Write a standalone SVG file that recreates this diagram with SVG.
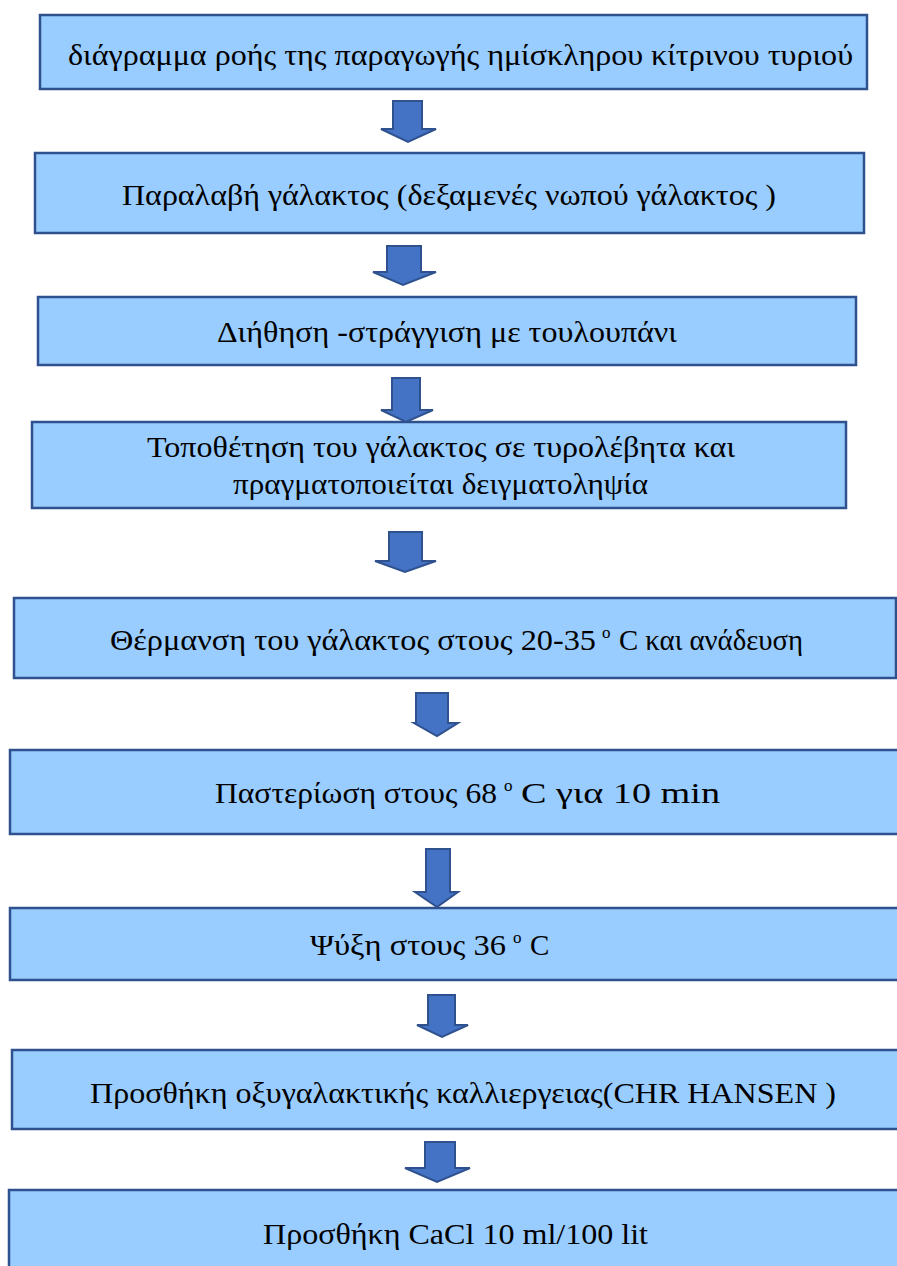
<svg xmlns="http://www.w3.org/2000/svg" width="897" height="1266" viewBox="0 0 897 1266">
  <style>
    .box { fill: #99CCFF; stroke: #2F528F; stroke-width: 2.5; }
    .lbl { font-family: "Liberation Serif", "DejaVu Serif", "Times New Roman", serif; font-size: 29px; fill: #000; }
    .sup { font-size: 17px; }
    .arrow { fill: #4472C4; stroke: #2F528F; stroke-width: 2; stroke-linejoin: miter; }
  </style>
  <rect width="897" height="1266" fill="#ffffff"/>

  <g id="n1">
    <rect class="box" x="40" y="15" width="827" height="74"/>
    <text class="lbl" x="68" y="65" textLength="785" lengthAdjust="spacingAndGlyphs">διάγραμμα ροής της παραγωγής ημίσκληρου κίτρινου τυριού</text>
  </g>
  <g id="n2">
    <rect class="box" x="35" y="153" width="829" height="80"/>
    <text class="lbl" x="122" y="205" textLength="654" lengthAdjust="spacingAndGlyphs">Παραλαβή γάλακτος (δεξαμενές νωπού γάλακτος )</text>
  </g>
  <g id="n3">
    <rect class="box" x="38" y="297" width="818" height="68"/>
    <text class="lbl" x="217" y="342" textLength="460" lengthAdjust="spacingAndGlyphs">Διήθηση -στράγγιση με τουλουπάνι</text>
  </g>
  <g id="n4">
    <rect class="box" x="32" y="422" width="814" height="86"/>
    <text class="lbl" x="147" y="457" textLength="588" lengthAdjust="spacingAndGlyphs">Τοποθέτηση του γάλακτος σε τυρολέβητα και</text>
    <text class="lbl" x="233" y="494" textLength="415" lengthAdjust="spacingAndGlyphs">πραγματοποιείται δειγματοληψία</text>
  </g>
  <g id="n5">
    <rect class="box" x="14" y="598" width="882" height="80"/>
    <text class="lbl" y="650"><tspan x="110" textLength="486" lengthAdjust="spacingAndGlyphs">Θέρμανση του γάλακτος στους 20-35</tspan><tspan class="sup" x="602" y="638">ο</tspan><tspan x="619" y="650" textLength="184" lengthAdjust="spacingAndGlyphs">C και ανάδευση</tspan></text>
  </g>
  <g id="n6">
    <rect class="box" x="10" y="750" width="890" height="84"/>
    <text class="lbl" y="803"><tspan x="215" textLength="282" lengthAdjust="spacingAndGlyphs">Παστερίωση στους 68</tspan><tspan class="sup" x="504" y="791">ο</tspan><tspan x="521" y="803" textLength="199" lengthAdjust="spacingAndGlyphs">C για 10 min</tspan></text>
  </g>
  <g id="n7">
    <rect class="box" x="10" y="908" width="890" height="72"/>
    <text class="lbl" y="955"><tspan x="310" textLength="196" lengthAdjust="spacingAndGlyphs">Ψύξη στους 36</tspan><tspan class="sup" x="513" y="943">ο</tspan><tspan x="530" y="955">C</tspan></text>
  </g>
  <g id="n8">
    <rect class="box" x="12" y="1050" width="890" height="79"/>
    <text class="lbl" x="90" y="1103" textLength="746" lengthAdjust="spacingAndGlyphs">Προσθήκη οξυγαλακτικής καλλιεργειας(CHR HANSEN )</text>
  </g>
  <g id="n9">
    <rect class="box" x="9" y="1190" width="893" height="90"/>
    <text class="lbl" x="263" y="1244" textLength="385" lengthAdjust="spacingAndGlyphs">Προσθήκη CaCl 10 ml/100 lit</text>
  </g>

  <g id="connectors">
    <polygon class="arrow" points="393,101 422,101 422,129 436,129 408,142 381,129 393,129"/>
    <polygon class="arrow" points="387,246 421,246 421,272 436,272 403,285 373,272 387,272"/>
    <polygon class="arrow" points="392,378 420,378 420,410 433,410 406,422 381,410 392,410"/>
    <polygon class="arrow" points="389,532 422,532 422,561 436,561 405,572 375,561 389,561"/>
    <polygon class="arrow" points="416,693 448,693 448,723 458,723 437,736 414,723 416,723"/>
    <polygon class="arrow" points="426,849 450,849 450,892 458,892 437,907 415,892 426,892"/>
    <polygon class="arrow" points="428,995 455,995 455,1025 468,1025 442,1037 417,1025 428,1025"/>
    <polygon class="arrow" points="425,1142 455,1142 455,1168 470,1168 437,1182 405,1168 425,1168"/>
  </g>
</svg>
